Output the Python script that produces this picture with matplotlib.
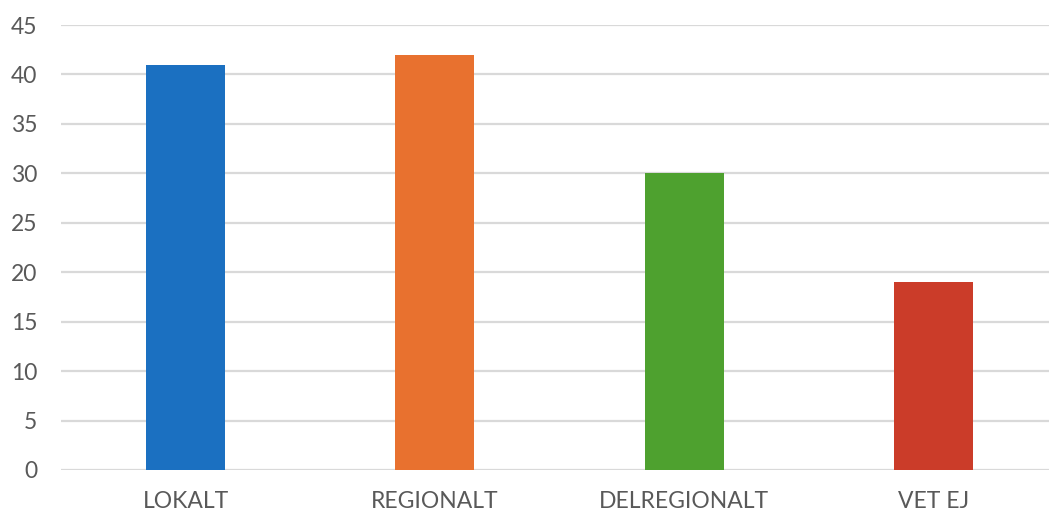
import matplotlib
matplotlib.use("Agg")
import matplotlib.pyplot as plt

categories = ["LOKALT", "REGIONALT", "DELREGIONALT", "VET EJ"]
values = [41, 42, 30, 19]
colors = ["#1B70C1", "#E8712F", "#4EA12F", "#CB3C29"]

plt.rcParams['font.family'] = ['Lato', 'DejaVu Sans']

fig = plt.figure(figsize=(10.49, 5.13), dpi=100)
W, H = 1049, 513
# axes runs past the right edge, like the cropped original
ax = fig.add_axes([61 / W, (H - 470) / H, 997 / W, 445 / H])

x = range(len(categories))
ax.bar(x, values, width=0.317, color=colors, zorder=3)

ax.set_xlim(-0.5, 3.5)
ax.set_ylim(0, 45)
ax.set_yticks(range(0, 46, 5))
ax.set_xticks(list(x))
ax.set_xticklabels(categories)

ax.yaxis.grid(True, color="#d9d9d9", linewidth=1.6, zorder=0)
for s in ax.spines.values():
    s.set_visible(False)
ax.tick_params(axis="both", length=0, labelsize=16.5, labelcolor="#595959")
ax.tick_params(axis="y", pad=17)
ax.tick_params(axis="x", pad=15)

fig.savefig("out.png", dpi=100)
